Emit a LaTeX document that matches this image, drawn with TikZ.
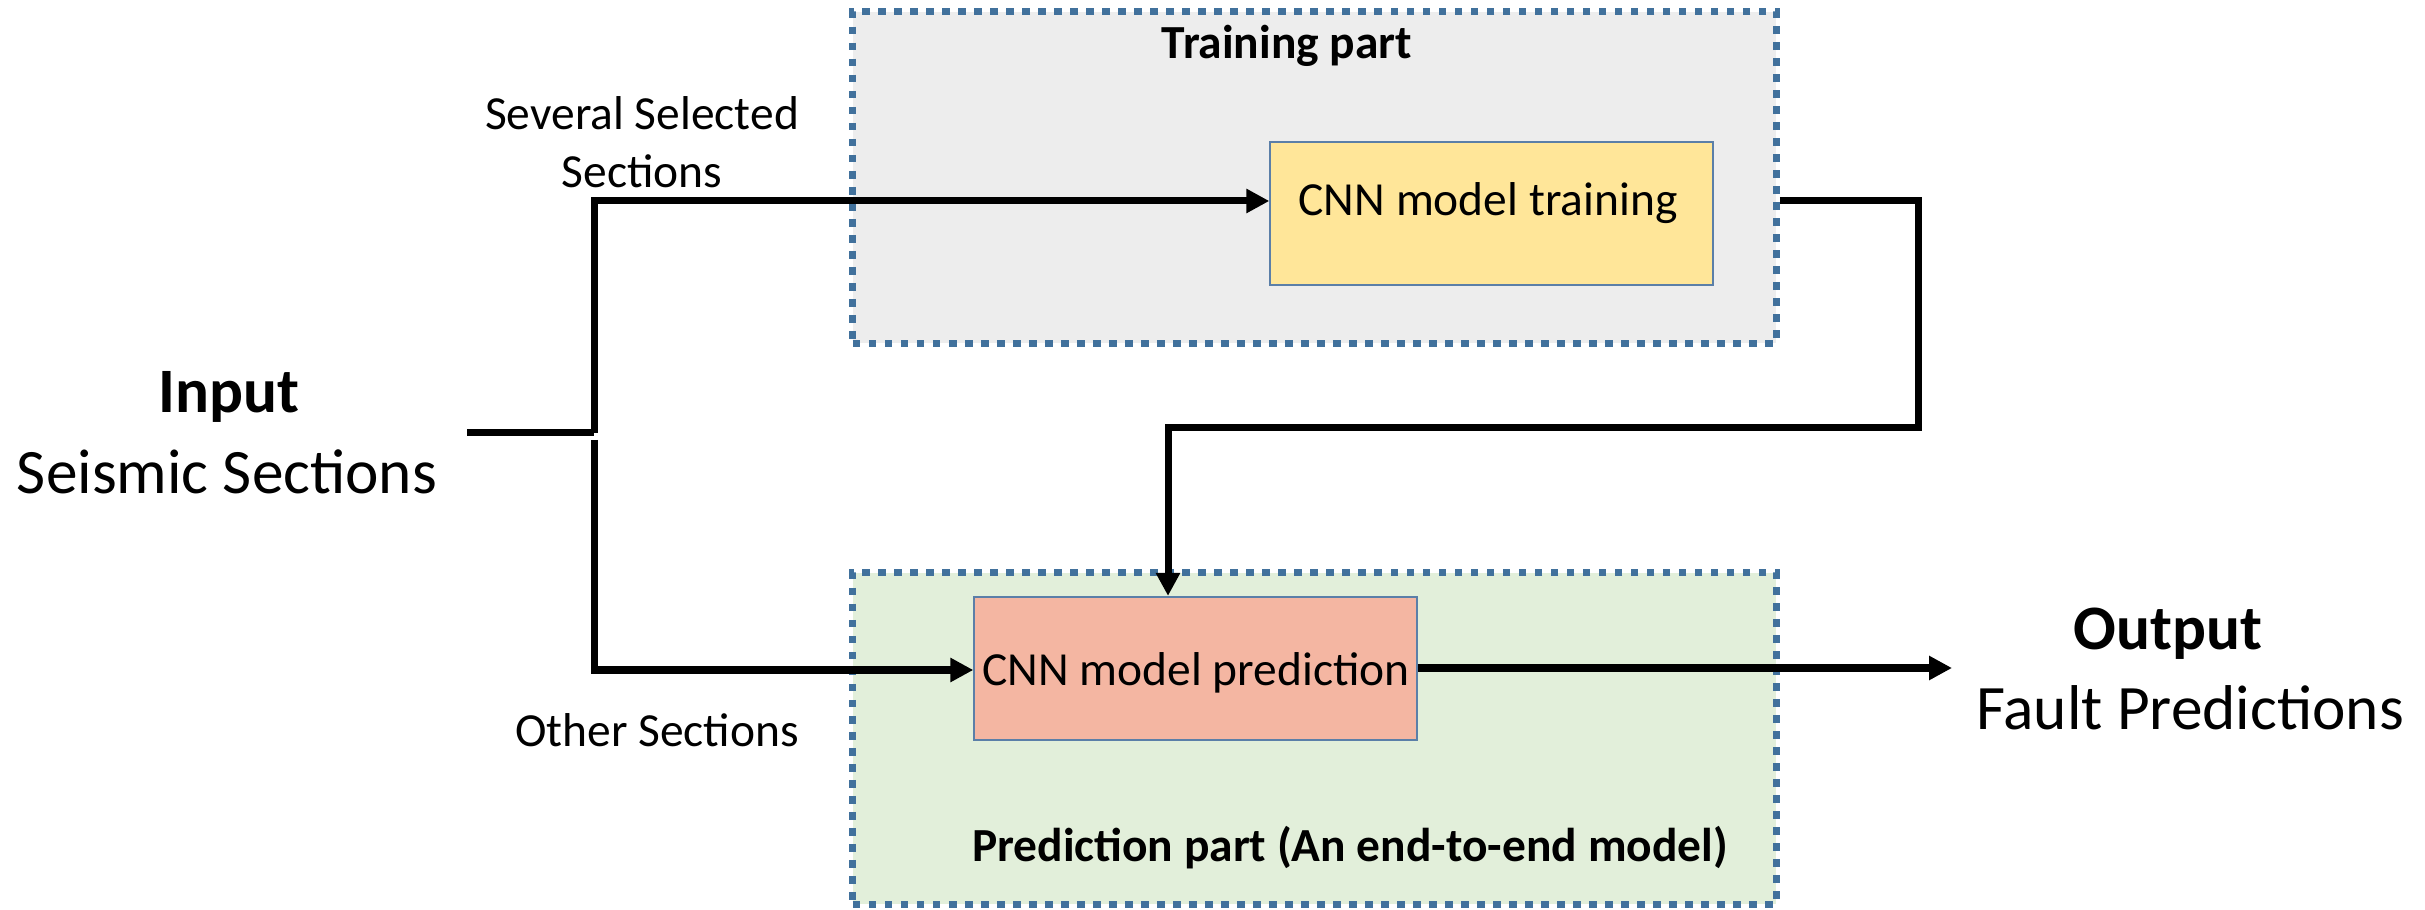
\documentclass[tikz,border=0pt]{standalone}
\usepackage{fontspec}
\setmainfont{Carlito}
\usetikzlibrary{arrows.meta}
\definecolor{dashblue}{HTML}{41719C}
\definecolor{trainbg}{HTML}{EDEDED}
\definecolor{predbg}{HTML}{E2EFDA}
\definecolor{yellowbox}{HTML}{FFE699}
\definecolor{salmonbox}{HTML}{F4B6A2}
\definecolor{boxline}{HTML}{5B7FA8}
\tikzset{
  partbox/.style={draw=dashblue, line width=0.07cm, dash pattern=on 0.077cm off 0.083cm, minimum width=9.23cm, minimum height=3.31cm, inner sep=0pt},
  cnnbox/.style={draw=boxline, line width=0.6pt, minimum width=4.42cm, minimum height=1.43cm, inner sep=0pt},
  conn/.style={line width=0.07cm, line join=miter},
  arr/.style={conn, -{Triangle[length=0.23cm, width=0.23cm]}},
  small/.style={font=\fontsize{13.5}{16.5}\selectfont, inner sep=0pt},
  smallb/.style={font=\fontsize{13.5}{16.5}\selectfont\bfseries, inner sep=0pt},
  big/.style={font=\fontsize{18}{22}\selectfont, inner sep=0pt},
  bigb/.style={font=\fontsize{18}{22}\selectfont\bfseries, inner sep=0pt}
}
\begin{document}
\begin{tikzpicture}[x=0.01cm, y=-0.01cm]
\useasboundingbox (0,0) rectangle (2425,910);
% part boxes
\node[partbox, fill=trainbg] (trainpart) at (1314.5,177.5) {};
\node[partbox, fill=predbg] (predpart) at (1314.5,738.5) {};
\node[smallb] (traintitle) at (1287,46) {Training part};
\node[smallb] (predtitle) at (1350,848) {Prediction part (An end-to-end model)};
% model boxes
\node[cnnbox, fill=yellowbox] (cnntrain) at (1491.5,213.5) {};
\node[small] (cnntraintext) at (1488,203) {CNN model training};
\node[cnnbox, fill=salmonbox] (cnnpred) at (1195.5,668.5) {};
\node[small] (cnnpredtext) at (1196,673) {CNN model prediction};
% texts
\node[bigb] (input) at (229,397) {Input};
\node[big] (seismic) at (227,472) {Seismic Sections};
\node[bigb] (output) at (2168,634) {Output};
\node[big] (fault) at (2190,708) {Fault Predictions};
\node[small, align=center] (several) at (642,142) {Several Selected\\Sections};
\node[small] (other) at (657,730) {Other Sections};
% coordinates
\coordinate (instart) at (467,433);
\coordinate (split) at (594,433);
\coordinate (splitlow) at (594,440);
\coordinate (outend) at (1952,668);
\coordinate (fbstart) at (trainpart.east |- cnntrain.center);
\coordinate (fbright) at (1918,428);
\coordinate (fbleft) at (1168,428);
% connectors
\draw[conn] (instart) -- (split);
\draw[arr] (split) |- (cnntrain.west |- 0,201);
\draw[arr] (splitlow) |- (cnnpred.west |- 0,670);
\draw[arr] (fbstart |- 0,201) -| (fbright) -- (fbleft) -- (fbleft |- cnnpred.north);
\draw[arr] (cnnpred.east |- 0,668) -- (outend);
\end{tikzpicture}
\end{document}
